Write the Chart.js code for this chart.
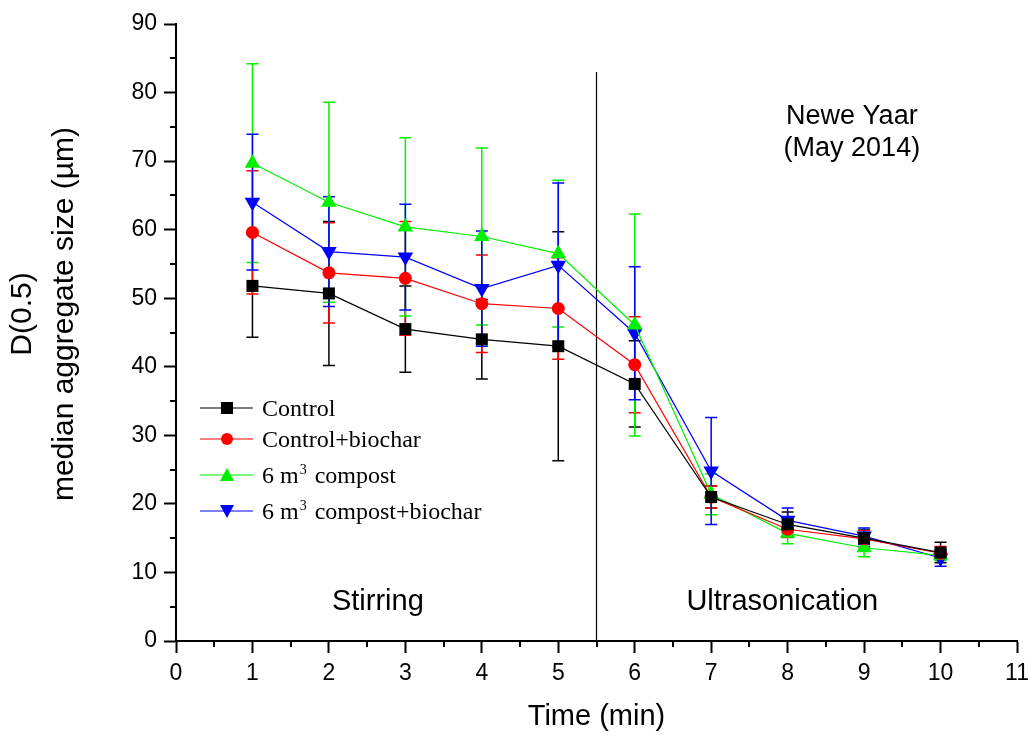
<!DOCTYPE html>
<html>
<head>
<meta charset="utf-8">
<script src="https://cdn.jsdelivr.net/npm/chart.js@4.4.0/dist/chart.umd.min.js"></script>
<style>
  body { margin: 0; background: #fff; }
  #wrap { width: 1031px; height: 737px; }
</style>
</head>
<body>
<div id="wrap"><canvas id="myChart"></canvas></div>
<script>
// values (D(0.5), µm)
const times = [1, 2, 3, 4, 5, 6, 7, 8, 9, 10];

const control = [51.8, 50.7, 45.5, 44.0, 43.0, 37.5, 21.0, 17.0, 15.0, 12.9];
const controlErr = [7.5, 10.5, 6.3, 5.8, 16.7, 6.3, 1.6, 1.8, 1.2, 1.5];

const controlBiochar = [59.6, 53.7, 52.9, 49.2, 48.5, 40.3, 21.0, 16.3, 14.9, 12.8];
const controlBiocharErr = [9.0, 7.3, 8.3, 7.1, 7.4, 7.0, 1.6, 1.2, 1.2, 1.0];

const compost = [69.7, 64.0, 60.4, 59.0, 56.5, 46.1, 21.4, 15.7, 13.6, 12.5];
const compostErr = [14.5, 14.6, 13.0, 12.9, 10.7, 16.2, 3.0, 1.5, 1.3, 0.8];

const compostBiochar = [64.0, 56.8, 56.0, 51.4, 54.8, 44.9, 24.8, 17.6, 15.3, 12.1];
const compostBiocharErr = [9.9, 8.0, 7.7, 8.4, 12.0, 9.7, 7.8, 1.8, 1.2, 1.2];

const labels = ['Control', 'Control+biochar', '6 m3 compost', '6 m3 compost+biochar'];
const colors = ['#000000', '#ff0000', '#00f000', '#0000ff'];

const xTicks = [0, 11, 1];   // min, max, step
const yTicks = [0, 90, 10];
const separatorX = 5.5;
const separatorTop = 83;

function toPoints(values) {
    return times.map((t, i) => ({ x: t, y: values[i] }));
}

function crearDataset(i, values, errors, style, radius, rotation) {
    return {
        label: labels[i],
        data: toPoints(values),
        errors: errors,
        borderColor: colors[i],
        backgroundColor: colors[i],
        borderWidth: 1.2,
        pointStyle: style,
        pointRadius: radius,
        pointRotation: rotation,
        pointBorderWidth: 0,
        pointHoverRadius: radius,
        tension: 0
    };
}

const datasets = [
    crearDataset(0, control, controlErr, 'rect', 8.5, 0),
    crearDataset(1, controlBiochar, controlBiocharErr, 'circle', 6.5, 0),
    crearDataset(2, compost, compostErr, 'triangle', 9, 0),
    crearDataset(3, compostBiochar, compostBiocharErr, 'triangle', 9, 180)
];

const SANS = '"Liberation Sans", Arial, sans-serif';
const SERIF = '"Liberation Serif", "Times New Roman", serif';

// error bars, separator line, minor ticks, texts, legend
const extras = {
    id: 'extras',
    beforeDatasetsDraw(chart) {
        const ctx = chart.ctx;
        const x = chart.scales.x, y = chart.scales.y;

        ctx.save();
        ctx.strokeStyle = '#000';
        ctx.lineWidth = 1.2;
        ctx.beginPath();
        ctx.moveTo(x.getPixelForValue(separatorX), y.getPixelForValue(0));
        ctx.lineTo(x.getPixelForValue(separatorX), y.getPixelForValue(separatorTop));
        ctx.stroke();
        ctx.restore();

        chart.data.datasets.forEach(ds => {
            ctx.save();
            ctx.strokeStyle = ds.borderColor;
            ctx.lineWidth = 1.5;
            ds.data.forEach((p, j) => {
                const px = x.getPixelForValue(p.x);
                const top = y.getPixelForValue(p.y + ds.errors[j]);
                const bot = y.getPixelForValue(p.y - ds.errors[j]);
                ctx.beginPath();
                ctx.moveTo(px, top); ctx.lineTo(px, bot);
                ctx.moveTo(px - 6, top); ctx.lineTo(px + 6, top);
                ctx.moveTo(px - 6, bot); ctx.lineTo(px + 6, bot);
                ctx.stroke();
            });
            ctx.restore();
        });
    },
    afterDraw(chart) {
        const ctx = chart.ctx;
        const x = chart.scales.x, y = chart.scales.y;
        const area = chart.chartArea;

        // minor ticks
        ctx.save();
        ctx.strokeStyle = '#000';
        ctx.lineWidth = 2;
        ctx.beginPath();
        for (let v = xTicks[0] + xTicks[2] / 2; v < xTicks[1]; v += xTicks[2]) {
            const px = Math.round(x.getPixelForValue(v));
            ctx.moveTo(px, area.bottom);
            ctx.lineTo(px, area.bottom + 6);
        }
        for (let v = yTicks[0] + yTicks[2] / 2; v < yTicks[1]; v += yTicks[2]) {
            const py = Math.round(y.getPixelForValue(v));
            ctx.moveTo(area.left - 6, py);
            ctx.lineTo(area.left, py);
        }
        ctx.stroke();

        // y axis title
        ctx.fillStyle = '#000';
        ctx.font = '30px ' + SANS;
        ctx.textAlign = 'center';
        ctx.textBaseline = 'middle';
        ctx.translate(0, 314);
        ctx.rotate(-Math.PI / 2);
        ctx.fillText('D(0.5)', 0, 23);
        ctx.fillText('median aggregate size (\u00b5m)', 0, 65);
        ctx.restore();

        // annotations
        ctx.save();
        ctx.fillStyle = '#000';
        ctx.textAlign = 'center';
        ctx.textBaseline = 'alphabetic';
        ctx.font = '29px ' + SANS;
        ctx.fillText('Stirring', x.getPixelForValue(2.64), y.getPixelForValue(4.5));
        ctx.fillText('Ultrasonication', x.getPixelForValue(7.93), y.getPixelForValue(4.5));
        ctx.font = '27px ' + SANS;
        ctx.fillText('Newe Yaar', x.getPixelForValue(8.84), y.getPixelForValue(75.4));
        ctx.fillText('(May 2014)', x.getPixelForValue(8.84), y.getPixelForValue(70.8));
        ctx.restore();

        // legend
        const rows = [408, 439, 475, 511];
        ctx.save();
        chart.data.datasets.forEach((ds, i) => {
            const cy = rows[i];
            ctx.strokeStyle = ds.borderColor;
            ctx.fillStyle = ds.borderColor;
            ctx.lineWidth = 1.2;
            ctx.beginPath();
            ctx.moveTo(200, cy); ctx.lineTo(253, cy);
            ctx.stroke();
            const mx = 227;
            ctx.beginPath();
            if (ds.pointStyle === 'rect') {
                ctx.rect(mx - 6, cy - 6, 12, 12);
            } else if (ds.pointStyle === 'circle') {
                ctx.arc(mx, cy, 6, 0, Math.PI * 2);
            } else if (ds.pointRotation === 180) {
                ctx.moveTo(mx - 7, cy - 6); ctx.lineTo(mx + 7, cy - 6); ctx.lineTo(mx, cy + 7);
            } else {
                ctx.moveTo(mx - 7, cy + 6); ctx.lineTo(mx + 7, cy + 6); ctx.lineTo(mx, cy - 7);
            }
            ctx.closePath();
            ctx.fill();

            ctx.fillStyle = '#000';
            ctx.textAlign = 'left';
            ctx.textBaseline = 'alphabetic';
            ctx.font = '24px ' + SERIF;
            const base = cy + 8;
            if (ds.label.indexOf('m3') >= 0) {
                const parts = ds.label.split('m3');
                let tx = 262;
                ctx.fillText(parts[0] + 'm', tx, base);
                tx += ctx.measureText(parts[0] + 'm').width + 1;
                ctx.font = '14px ' + SERIF;
                ctx.fillText('3', tx, base - 9);
                tx += ctx.measureText('3').width + 2;
                ctx.font = '24px ' + SERIF;
                ctx.fillText(parts[1], tx, base);
            } else {
                ctx.fillText(ds.label, 262, base);
            }
        });
        ctx.restore();
    }
};

Chart.defaults.font.family = SANS;
Chart.defaults.color = '#000';

const config = {
    type: 'line',
    data: { datasets: datasets },
    options: {
        responsive: true,
        maintainAspectRatio: false,
        animation: false,
        layout: { padding: { top: 24, right: 14, left: 0, bottom: 0 } },
        plugins: {
            legend: { display: false },
            tooltip: { enabled: false }
        },
        scales: {
            x: {
                type: 'linear',
                min: xTicks[0],
                max: xTicks[1],
                ticks: { stepSize: xTicks[2], font: { size: 23 }, padding: 7, maxRotation: 0 },
                grid: { drawOnChartArea: false, tickLength: 12, tickWidth: 2, color: '#000' },
                border: { width: 2, color: '#000' },
                title: { display: true, text: 'Time (min)', font: { size: 29 }, padding: { top: 0, bottom: 3 } },
                afterFit: (s) => { s.height = 96; s.paddingRight = 0; s.paddingLeft = 0; }
            },
            y: {
                min: yTicks[0],
                max: yTicks[1],
                ticks: { stepSize: yTicks[2], font: { size: 23 }, padding: 7 },
                grid: { drawOnChartArea: false, tickLength: 12, tickWidth: 2, color: '#000' },
                border: { width: 2, color: '#000' },
                afterFit: (s) => { s.width = 176; }
            }
        }
    },
    plugins: [extras]
};

const myChart = new Chart(document.getElementById('myChart'), config);
</script>
</body>
</html>
